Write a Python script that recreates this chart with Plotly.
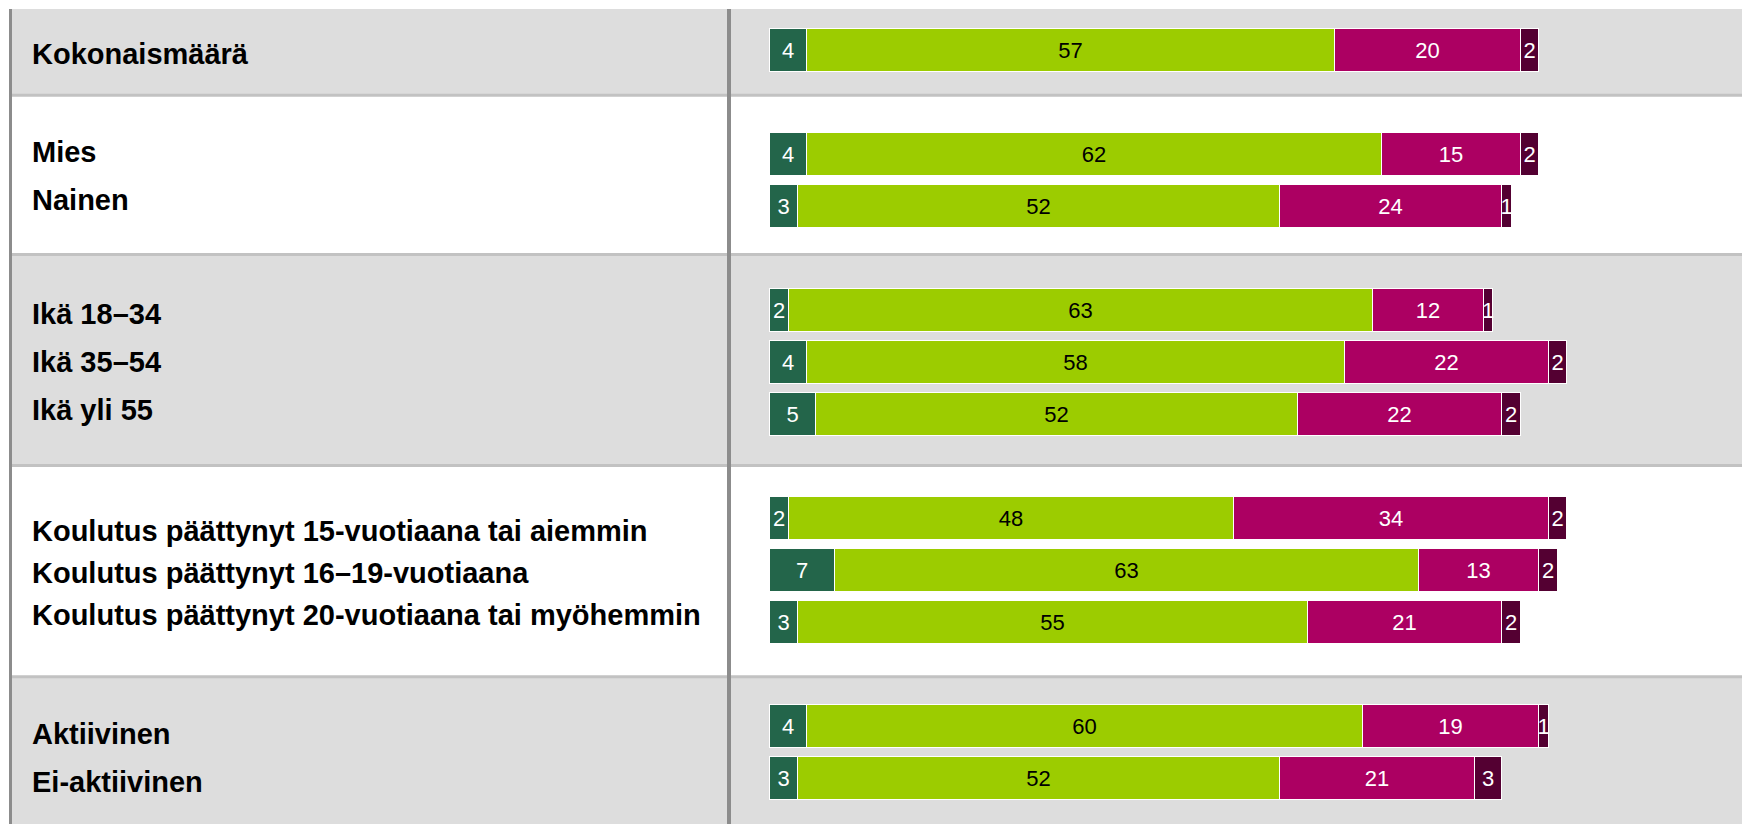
import plotly.graph_objects as go

# ---------------- data ----------------
group_labels = [
    ["Kokonaismäärä"],
    ["Mies", "Nainen"],
    ["Ikä 18–34", "Ikä 35–54", "Ikä yli 55"],
    ["Koulutus päättynyt 15-vuotiaana tai aiemmin",
     "Koulutus päättynyt 16–19-vuotiaana",
     "Koulutus päättynyt 20-vuotiaana tai myöhemmin"],
    ["Aktiivinen", "Ei-aktiivinen"],
]
series_names = ["Vastaus 1", "Vastaus 2", "Vastaus 3", "Vastaus 4"]
values_1 = [4, 4, 3, 2, 4, 5, 2, 7, 3, 4, 3]
values_2 = [57, 62, 52, 63, 58, 52, 48, 63, 55, 60, 52]
values_3 = [20, 15, 24, 12, 22, 22, 34, 13, 21, 19, 21]
values_4 = [2, 2, 1, 1, 2, 2, 2, 2, 2, 1, 3]

# ---------------- styling / layout ----------------
W, H = 1742, 824
ROW_PX = 52.0          # pixel pitch between bar rows
FIRST_ROW_PX = 50.6    # pixel centre of first bar row
BAR_LEFT_PX = 770.0
PX_PER_UNIT = 9.27
LEFT_BORDER_PX = 10.5
DIVIDER_PX = 729.0
TOP_PX = 9.0
LABEL_X_PX = 30.0

colors = ["#23654A", "#9CCC00", "#AC0062", "#540032"]
text_colors = ["white", "black", "white", "white"]
band_colors = ["#DDDDDD", "#FFFFFF"]
label_pitch_px = [48, 48, 48, 42, 48]

# slot positions (one empty slot between groups)
slots = []
slot = 0
for g in group_labels:
    for _ in g:
        slots.append(slot)
        slot += 1
    slot += 1

def px2slot(px):
    return (px - FIRST_ROW_PX) / ROW_PX

# band boundaries in slot units
bounds = [px2slot(TOP_PX), 0.86]
for g in group_labels[1:]:
    bounds.append(bounds[-1] + len(g) + 1 + 0.06)

fig = go.Figure()
all_values = [values_1, values_2, values_3, values_4]
for name, vals, col, tcol in zip(series_names, all_values, colors, text_colors):
    fig.add_trace(go.Bar(
        y=slots, x=vals, orientation="h", name=name,
        marker=dict(color=col, line=dict(color="white", width=1)),
        width=0.82,
        text=[str(v) for v in vals],
        textposition="inside", insidetextanchor="middle",
        constraintext="none", textangle=0,
        textfont=dict(family="Liberation Sans, Arial, sans-serif", size=22, color=tcol),
        hoverinfo="x+name",
    ))

shapes = []
annotations = []
for gi, g in enumerate(group_labels):
    y0, y1 = bounds[gi], bounds[gi + 1]
    shapes.append(dict(type="rect", xref="paper", yref="y",
                       x0=LEFT_BORDER_PX / W, x1=1, y0=y0, y1=y1,
                       fillcolor=band_colors[gi % 2], line=dict(width=0), layer="below"))
    centre = (y0 + y1) / 2 + 1.5 / ROW_PX
    n = len(g)
    for i, lab in enumerate(g):
        annotations.append(dict(
            text=lab, xref="paper", yref="y",
            x=LABEL_X_PX / W, y=centre + (i - (n - 1) / 2) * label_pitch_px[gi] / ROW_PX,
            xanchor="left", yanchor="middle", showarrow=False,
            font=dict(family="Liberation Sans, Arial, sans-serif", size=29,
                      color="black", weight="bold"),
        ))

for b in bounds[1:-1]:
    shapes.append(dict(type="line", xref="paper", yref="y",
                       x0=LEFT_BORDER_PX / W, x1=1, y0=b, y1=b,
                       line=dict(color="#C2C2C2", width=3), layer="below"))

for xpx, wline in [(DIVIDER_PX, 4), (LEFT_BORDER_PX, 3)]:
    shapes.append(dict(type="line", xref="paper", yref="y",
                       x0=xpx / W, x1=xpx / W, y0=bounds[0], y1=bounds[-1],
                       line=dict(color="#8C8C8C", width=wline), layer="below"))

fig.update_layout(
    width=W, height=H,
    margin=dict(l=0, r=0, t=0, b=0),
    barmode="stack", bargap=0,
    showlegend=False,
    paper_bgcolor="white", plot_bgcolor="rgba(0,0,0,0)",
    xaxis=dict(range=[-BAR_LEFT_PX / PX_PER_UNIT, (W - BAR_LEFT_PX) / PX_PER_UNIT],
               visible=False, fixedrange=True),
    yaxis=dict(range=[px2slot(H), px2slot(0)], visible=False, fixedrange=True),
    shapes=shapes, annotations=annotations,
)

fig.write_html(
    "out.html",
    config={"displayModeBar": False},
    post_script="document.body.style.margin='0';document.body.style.overflow='hidden';",
)
